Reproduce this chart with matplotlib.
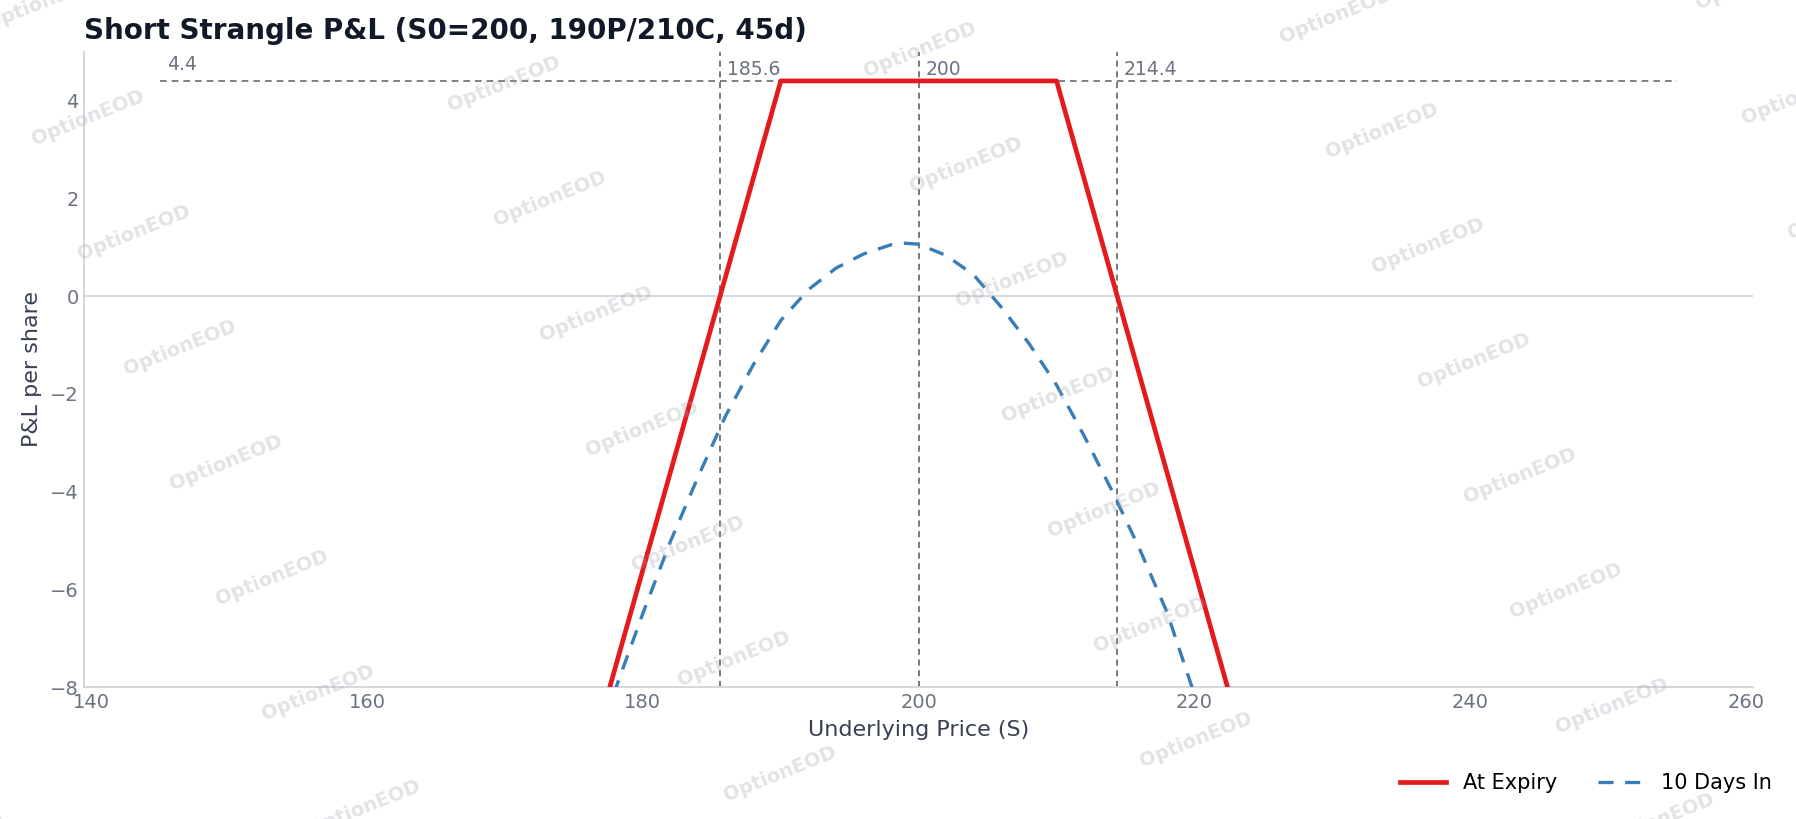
import matplotlib
matplotlib.use("Agg")
import matplotlib.pyplot as plt

# at-expiry payoff of the short strangle (corner points)
expiry_s = [145, 190, 210, 255]
expiry_pnl = [-40.6, 4.4, 4.4, -40.6]

# mark-to-model 10 days in
days_s = [176, 178, 180, 182, 184, 186, 188, 190, 192, 194, 196, 198, 199, 200,
          202, 204, 206, 208, 210, 212, 214, 216, 218, 220, 222]
days_pnl = [-9.7, -8.05, -6.49, -5.02, -3.70, -2.45, -1.41, -0.50, 0.13, 0.57, 0.86,
            1.05, 1.08, 1.06, 0.83, 0.43, -0.23, -0.97, -1.82, -2.86, -3.97, -5.16,
            -6.46, -8.15, -9.8]

credit = 4.4
s_range = [145, 255]
ref_lines = [185.6, 200, 214.4]
ref_labels = ["185.6", "200", "214.4"]

TICK = "#6b7280"
GRID = "#d1d5db"

fig = plt.figure(figsize=(17.96, 8.19), dpi=100)
ax = fig.add_axes([0.047, 0.161, 0.929, 0.776])

ax.plot(expiry_s, expiry_pnl, color="#e41a1c", lw=3.4, label="At Expiry", zorder=3)
ax.plot(days_s, days_pnl, color="#377eb8", lw=2.4, ls=(0, (4.5, 3.5)), label="10 Days In", zorder=3)

ax.axhline(0, color=GRID, lw=1.3, zorder=1)
ax.hlines(credit, s_range[0], s_range[1], colors="#6b6b6b", lw=1.2, linestyles=(0, (4, 3)), zorder=2)
ax.text(s_range[0] + 0.5, credit + 0.15, f"{credit}", color=TICK, fontsize=13.5, va="bottom")
for x, lab in zip(ref_lines, ref_labels):
    ax.axvline(x, color="#555555", lw=1.1, ls=(0, (4, 3)), zorder=2)
    ax.text(x + 0.5, credit + 0.03, lab, color=TICK, fontsize=13.5, va="bottom")

ax.set_xlim(139.5, 260.5)
ax.set_ylim(-8, 5)
ax.set_yticks([-8, -6, -4, -2, 0, 2, 4])

for side in ["top", "right"]:
    ax.spines[side].set_visible(False)
for side in ["left", "bottom"]:
    ax.spines[side].set_color(GRID)
    ax.spines[side].set_linewidth(1.3)
ax.tick_params(colors=TICK, labelsize=14, length=0, pad=4)

ax.set_xlabel("Underlying Price (S)", fontsize=16, color="#374151", labelpad=6)
ax.set_ylabel("P&L per share", fontsize=16, color="#374151", labelpad=6)
ax.set_title("Short Strangle P&L (S0=200, 190P/210C, 45d)", loc="left",
             fontsize=20, fontweight="bold", color="#111827", pad=9)

fig.legend(loc="center right", bbox_to_anchor=(0.997, 0.044), ncol=2, frameon=False,
           fontsize=15, handlelength=2.2, columnspacing=2.0)

# tiled watermark
W, H = 1796, 819
for c in range(-1, 6):
    for r in range(-1, 8):
        px = 88 + 416 * c + 46 * r
        py = 118 - 34 * c + 115 * r
        if -60 < px < W + 60 and -40 < py < H + 40:
            fig.text(px / W, 1 - py / H, "OptionEOD", rotation=22, ha="center", va="center",
                     fontsize=14, fontweight="bold", color="#9ca3af", alpha=0.3, zorder=10)

fig.savefig("out.png", dpi=100)
